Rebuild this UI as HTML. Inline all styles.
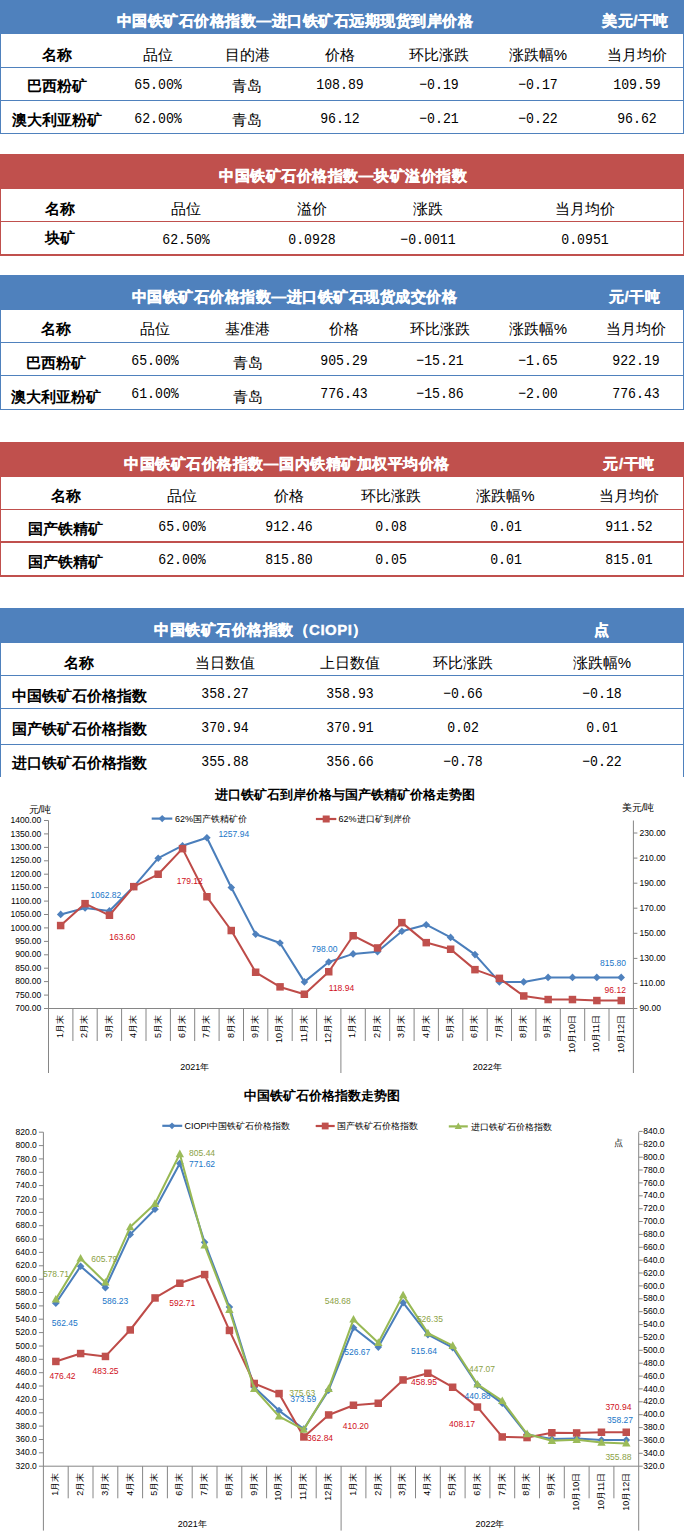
<!DOCTYPE html>
<html><head><meta charset="utf-8"><style>
html,body{margin:0;padding:0;background:#fff}
body{width:684px;height:1538px;position:relative;overflow:hidden;font-family:"Liberation Sans",sans-serif}
.bar,.ln,.tt,.c{position:absolute}
.bar{left:0;width:684px}
.tt{color:#fff;font-weight:bold;font-size:15px;letter-spacing:0.5px;text-align:center;-webkit-text-stroke:0.35px #fff;white-space:nowrap}
.c{width:300px;height:30px;line-height:30px;text-align:center;white-space:nowrap;color:#000;font-family:"Liberation Sans",sans-serif}
.m{font-family:"Liberation Mono",monospace;font-size:15px;transform:scaleX(0.88)}
.b{font-weight:bold}
.ch{position:absolute;left:0;top:0}
</style></head><body>
<div class="bar" style="top:0px;height:34px;background:#4f81bd"></div>
<div class="tt" style="top:4px;height:34px;line-height:34px;left:-5px;width:600px">中国铁矿石价格指数—进口铁矿石远期现货到岸价格</div>
<div class="tt" style="top:4px;height:34px;line-height:34px;left:535.5px;width:200px">美元/干吨</div>
<div class="ln" style="left:0;top:34px;width:1px;height:100px;background:#4f81bd"></div>
<div class="ln" style="left:683px;top:34px;width:1px;height:100px;background:#4f81bd"></div>
<div class="ln" style="left:0;top:67px;width:684px;height:1px;background:#4f81bd"></div>
<div class="ln" style="left:0;top:100px;width:684px;height:1px;background:#4f81bd"></div>
<div class="ln" style="left:0;top:133px;width:684px;height:1px;background:#4f81bd"></div>
<div class="c b" style="left:-93px;top:39.5px;font-size:15px">名称</div>
<div class="c" style="left:7.5px;top:39.5px;font-size:15px">品位</div>
<div class="c" style="left:97px;top:39.5px;font-size:15px">目的港</div>
<div class="c" style="left:189.5px;top:39.5px;font-size:15px">价格</div>
<div class="c" style="left:289px;top:39.5px;font-size:15px">环比涨跌</div>
<div class="c" style="left:388px;top:39.5px;font-size:15px">涨跌幅%</div>
<div class="c" style="left:486.5px;top:39.5px;font-size:15px">当月均价</div>
<div class="c b" style="left:-93px;top:71px;font-size:15px">巴西粉矿</div>
<div class="c m" style="left:7.5px;top:71.4px">65.00%</div>
<div class="c" style="left:97px;top:71px;font-size:15px">青岛</div>
<div class="c m" style="left:189.5px;top:71.4px">108.89</div>
<div class="c m" style="left:289px;top:71.4px">−0.19</div>
<div class="c m" style="left:388px;top:71.4px">−0.17</div>
<div class="c m" style="left:486.5px;top:71.4px">109.59</div>
<div class="c b" style="left:-93px;top:104.7px;font-size:15px">澳大利亚粉矿</div>
<div class="c m" style="left:7.5px;top:104.75px">62.00%</div>
<div class="c" style="left:97px;top:104.7px;font-size:15px">青岛</div>
<div class="c m" style="left:189.5px;top:104.75px">96.12</div>
<div class="c m" style="left:289px;top:104.75px">−0.21</div>
<div class="c m" style="left:388px;top:104.75px">−0.22</div>
<div class="c m" style="left:486.5px;top:104.75px">96.62</div>
<div class="bar" style="top:154px;height:35px;background:#c0504d"></div>
<div class="tt" style="top:158px;height:35px;line-height:35px;left:43px;width:600px">中国铁矿石价格指数—块矿溢价指数</div>
<div class="ln" style="left:0;top:188px;width:1px;height:68px;background:#c0504d"></div>
<div class="ln" style="left:683px;top:188px;width:1px;height:68px;background:#c0504d"></div>
<div class="ln" style="left:0;top:221px;width:684px;height:1px;background:#c0504d"></div>
<div class="ln" style="left:0;top:254px;width:684px;height:2px;background:#c0504d"></div>
<div class="c b" style="left:-90.5px;top:194px;font-size:15px">名称</div>
<div class="c" style="left:36px;top:194px;font-size:15px">品位</div>
<div class="c" style="left:162px;top:194px;font-size:15px">溢价</div>
<div class="c" style="left:278px;top:194px;font-size:15px">涨跌</div>
<div class="c" style="left:435px;top:194px;font-size:15px">当月均价</div>
<div class="c b" style="left:-90.5px;top:223px;font-size:15px">块矿</div>
<div class="c m" style="left:36px;top:225.5px">62.50%</div>
<div class="c m" style="left:162px;top:225.5px">0.0928</div>
<div class="c m" style="left:278px;top:225.5px">−0.0011</div>
<div class="c m" style="left:435px;top:225.5px">0.0951</div>
<div class="bar" style="top:275px;height:35px;background:#4f81bd"></div>
<div class="tt" style="top:279px;height:35px;line-height:35px;left:-5.5px;width:600px">中国铁矿石价格指数—进口铁矿石现货成交价格</div>
<div class="tt" style="top:279px;height:35px;line-height:35px;left:534.5px;width:200px">元/干吨</div>
<div class="ln" style="left:0;top:309px;width:1px;height:101px;background:#4f81bd"></div>
<div class="ln" style="left:683px;top:309px;width:1px;height:101px;background:#4f81bd"></div>
<div class="ln" style="left:0;top:342px;width:684px;height:1px;background:#4f81bd"></div>
<div class="ln" style="left:0;top:375px;width:684px;height:1px;background:#4f81bd"></div>
<div class="ln" style="left:0;top:409px;width:684px;height:1px;background:#4f81bd"></div>
<div class="c b" style="left:-94.5px;top:313.5px;font-size:15px">名称</div>
<div class="c" style="left:5px;top:313.5px;font-size:15px">品位</div>
<div class="c" style="left:97.5px;top:313.5px;font-size:15px">基准港</div>
<div class="c" style="left:193.5px;top:313.5px;font-size:15px">价格</div>
<div class="c" style="left:290px;top:313.5px;font-size:15px">环比涨跌</div>
<div class="c" style="left:388px;top:313.5px;font-size:15px">涨跌幅%</div>
<div class="c" style="left:485.5px;top:313.5px;font-size:15px">当月均价</div>
<div class="c b" style="left:-94.5px;top:348px;font-size:15px">巴西粉矿</div>
<div class="c m" style="left:5px;top:346.5px">65.00%</div>
<div class="c" style="left:97.5px;top:348px;font-size:15px">青岛</div>
<div class="c m" style="left:193.5px;top:346.5px">905.29</div>
<div class="c m" style="left:290px;top:346.5px">−15.21</div>
<div class="c m" style="left:388px;top:346.5px">−1.65</div>
<div class="c m" style="left:485.5px;top:346.5px">922.19</div>
<div class="c b" style="left:-94.5px;top:381.5px;font-size:15px">澳大利亚粉矿</div>
<div class="c m" style="left:5px;top:380.0px">61.00%</div>
<div class="c" style="left:97.5px;top:381.5px;font-size:15px">青岛</div>
<div class="c m" style="left:193.5px;top:380.0px">776.43</div>
<div class="c m" style="left:290px;top:380.0px">−15.86</div>
<div class="c m" style="left:388px;top:380.0px">−2.00</div>
<div class="c m" style="left:485.5px;top:380.0px">776.43</div>
<div class="bar" style="top:442px;height:35px;background:#c0504d"></div>
<div class="tt" style="top:446px;height:35px;line-height:35px;left:-13.25px;width:600px">中国铁矿石价格指数—国内铁精矿加权平均价格</div>
<div class="tt" style="top:446px;height:35px;line-height:35px;left:529px;width:200px">元/干吨</div>
<div class="ln" style="left:0;top:476px;width:1px;height:101px;background:#c0504d"></div>
<div class="ln" style="left:683px;top:476px;width:1px;height:101px;background:#c0504d"></div>
<div class="ln" style="left:0;top:509px;width:684px;height:1px;background:#c0504d"></div>
<div class="ln" style="left:0;top:541px;width:684px;height:2px;background:#c0504d"></div>
<div class="ln" style="left:0;top:575px;width:684px;height:2px;background:#c0504d"></div>
<div class="c b" style="left:-84.5px;top:481px;font-size:15px">名称</div>
<div class="c" style="left:31.5px;top:481px;font-size:15px">品位</div>
<div class="c" style="left:139px;top:481px;font-size:15px">价格</div>
<div class="c" style="left:241px;top:481px;font-size:15px">环比涨跌</div>
<div class="c" style="left:355.5px;top:481px;font-size:15px">涨跌幅%</div>
<div class="c" style="left:479px;top:481px;font-size:15px">当月均价</div>
<div class="c b" style="left:-84.5px;top:514px;font-size:15px">国产铁精矿</div>
<div class="c m" style="left:31.5px;top:513.1px">65.00%</div>
<div class="c m" style="left:139px;top:513.1px">912.46</div>
<div class="c m" style="left:241px;top:513.1px">0.08</div>
<div class="c m" style="left:355.5px;top:513.1px">0.01</div>
<div class="c m" style="left:479px;top:513.1px">911.52</div>
<div class="c b" style="left:-84.5px;top:547px;font-size:15px">国产铁精矿</div>
<div class="c m" style="left:31.5px;top:546.1px">62.00%</div>
<div class="c m" style="left:139px;top:546.1px">815.80</div>
<div class="c m" style="left:241px;top:546.1px">0.05</div>
<div class="c m" style="left:355.5px;top:546.1px">0.01</div>
<div class="c m" style="left:479px;top:546.1px">815.01</div>
<div class="bar" style="top:608px;height:35px;background:#4f81bd"></div>
<div class="tt" style="top:612px;height:35px;line-height:35px;left:-39px;width:600px">中国铁矿石价格指数（CIOPI）</div>
<div class="tt" style="top:612px;height:35px;line-height:35px;left:502px;width:200px">点</div>
<div class="ln" style="left:0;top:642px;width:1px;height:135px;background:#4f81bd"></div>
<div class="ln" style="left:683px;top:642px;width:1px;height:135px;background:#4f81bd"></div>
<div class="ln" style="left:0;top:675px;width:684px;height:1px;background:#4f81bd"></div>
<div class="ln" style="left:0;top:708px;width:684px;height:1px;background:#4f81bd"></div>
<div class="ln" style="left:0;top:744px;width:684px;height:1px;background:#4f81bd"></div>
<div class="c b" style="left:-71px;top:647.5px;font-size:15px">名称</div>
<div class="c" style="left:75px;top:647.5px;font-size:15px">当日数值</div>
<div class="c" style="left:199.5px;top:647.5px;font-size:15px">上日数值</div>
<div class="c" style="left:312.5px;top:647.5px;font-size:15px">环比涨跌</div>
<div class="c" style="left:452px;top:647.5px;font-size:15px">涨跌幅%</div>
<div class="c b" style="left:-71px;top:681px;font-size:15px">中国铁矿石价格指数</div>
<div class="c m" style="left:75px;top:679.5px">358.27</div>
<div class="c m" style="left:199.5px;top:679.5px">358.93</div>
<div class="c m" style="left:312.5px;top:679.5px">−0.66</div>
<div class="c m" style="left:452px;top:679.5px">−0.18</div>
<div class="c b" style="left:-71px;top:714px;font-size:15px">国产铁矿石价格指数</div>
<div class="c m" style="left:75px;top:714.0px">370.94</div>
<div class="c m" style="left:199.5px;top:714.0px">370.91</div>
<div class="c m" style="left:312.5px;top:714.0px">0.02</div>
<div class="c m" style="left:452px;top:714.0px">0.01</div>
<div class="c b" style="left:-71px;top:748px;font-size:15px">进口铁矿石价格指数</div>
<div class="c m" style="left:75px;top:748.2px">355.88</div>
<div class="c m" style="left:199.5px;top:748.2px">356.66</div>
<div class="c m" style="left:312.5px;top:748.2px">−0.78</div>
<div class="c m" style="left:452px;top:748.2px">−0.22</div>
<svg class="ch" width="684" height="1538" viewBox="0 0 684 1538" font-family="Liberation Sans, sans-serif"><text x="344.6" y="798.5" font-size="13" fill="#000" text-anchor="middle" font-weight="bold">进口铁矿石到岸价格与国产铁精矿价格走势图</text><text x="28.6" y="813.0" font-size="10" fill="#000" text-anchor="start">元/吨</text><text x="621.7" y="810.5" font-size="10" fill="#000" text-anchor="start">美元/吨</text><path d="M151.7 818.6H172.3" stroke="#4a7ebb" stroke-width="2.2"/><path d="M162.2 815.0L165.8 818.6L162.2 822.2L158.6 818.6Z" fill="#4f81bd"/><text x="175.1" y="822.0" font-size="9" fill="#000" text-anchor="start">62%国产铁精矿价</text><path d="M315.9 819H336.3" stroke="#be4b48" stroke-width="2.2"/><rect x="322.7" y="815.5" width="7.0" height="7.0" fill="#c0504d"/><text x="338.6" y="822.4" font-size="9" fill="#000" text-anchor="start">62%进口矿到岸价</text><g stroke="#868686" stroke-width="1" fill="none"><path d="M48.5 820.5V1073M633.4 820.5V1073M48.5 1008.5H633.4"/><path d="M72.9 1008.5V1041M97.2 1008.5V1041M121.6 1008.5V1041M146.0 1008.5V1041M170.4 1008.5V1041M194.7 1008.5V1041M219.1 1008.5V1041M243.5 1008.5V1041M267.8 1008.5V1041M292.2 1008.5V1041M316.6 1008.5V1041M340.9 1008.5V1073M365.3 1008.5V1041M389.7 1008.5V1041M414.1 1008.5V1041M438.4 1008.5V1041M462.8 1008.5V1041M487.2 1008.5V1041M511.5 1008.5V1041M535.9 1008.5V1041M560.3 1008.5V1041M584.7 1008.5V1041M609.0 1008.5V1041"/><path d="M44.0 1008.5H48.5M44.0 995.1H48.5M44.0 981.6H48.5M44.0 968.2H48.5M44.0 954.8H48.5M44.0 941.4H48.5M44.0 927.9H48.5M44.0 914.5H48.5M44.0 901.1H48.5M44.0 887.6H48.5M44.0 874.2H48.5M44.0 860.8H48.5M44.0 847.4H48.5M44.0 833.9H48.5M44.0 820.5H48.5M633.4 1008.5H637.4M633.4 983.4H637.4M633.4 958.4H637.4M633.4 933.3H637.4M633.4 908.2H637.4M633.4 883.2H637.4M633.4 858.1H637.4M633.4 833.0H637.4"/></g><g font-size="8.5" fill="#000"><text x="41.2" y="1011.1" font-size="8.5" fill="#000" text-anchor="end">700.00</text><text x="41.2" y="997.7" font-size="8.5" fill="#000" text-anchor="end">750.00</text><text x="41.2" y="984.2" font-size="8.5" fill="#000" text-anchor="end">800.00</text><text x="41.2" y="970.8" font-size="8.5" fill="#000" text-anchor="end">850.00</text><text x="41.2" y="957.4" font-size="8.5" fill="#000" text-anchor="end">900.00</text><text x="41.2" y="944.0" font-size="8.5" fill="#000" text-anchor="end">950.00</text><text x="41.2" y="930.5" font-size="8.5" fill="#000" text-anchor="end">1000.00</text><text x="41.2" y="917.1" font-size="8.5" fill="#000" text-anchor="end">1050.00</text><text x="41.2" y="903.7" font-size="8.5" fill="#000" text-anchor="end">1100.00</text><text x="41.2" y="890.2" font-size="8.5" fill="#000" text-anchor="end">1150.00</text><text x="41.2" y="876.8" font-size="8.5" fill="#000" text-anchor="end">1200.00</text><text x="41.2" y="863.4" font-size="8.5" fill="#000" text-anchor="end">1250.00</text><text x="41.2" y="850.0" font-size="8.5" fill="#000" text-anchor="end">1300.00</text><text x="41.2" y="836.5" font-size="8.5" fill="#000" text-anchor="end">1350.00</text><text x="41.2" y="823.1" font-size="8.5" fill="#000" text-anchor="end">1400.00</text><text x="639.6" y="1011.1" font-size="8.5" fill="#000" text-anchor="start">90.00</text><text x="639.6" y="986.0" font-size="8.5" fill="#000" text-anchor="start">110.00</text><text x="639.6" y="961.0" font-size="8.5" fill="#000" text-anchor="start">130.00</text><text x="639.6" y="935.9" font-size="8.5" fill="#000" text-anchor="start">150.00</text><text x="639.6" y="910.8" font-size="8.5" fill="#000" text-anchor="start">170.00</text><text x="639.6" y="885.8" font-size="8.5" fill="#000" text-anchor="start">190.00</text><text x="639.6" y="860.7" font-size="8.5" fill="#000" text-anchor="start">210.00</text><text x="639.6" y="835.6" font-size="8.5" fill="#000" text-anchor="start">230.00</text></g><text transform="translate(63.0,1015) rotate(-90)" font-size="9" text-anchor="end" fill="#000">1月末</text><text transform="translate(87.4,1015) rotate(-90)" font-size="9" text-anchor="end" fill="#000">2月末</text><text transform="translate(111.7,1015) rotate(-90)" font-size="9" text-anchor="end" fill="#000">3月末</text><text transform="translate(136.1,1015) rotate(-90)" font-size="9" text-anchor="end" fill="#000">4月末</text><text transform="translate(160.5,1015) rotate(-90)" font-size="9" text-anchor="end" fill="#000">5月末</text><text transform="translate(184.8,1015) rotate(-90)" font-size="9" text-anchor="end" fill="#000">6月末</text><text transform="translate(209.2,1015) rotate(-90)" font-size="9" text-anchor="end" fill="#000">7月末</text><text transform="translate(233.6,1015) rotate(-90)" font-size="9" text-anchor="end" fill="#000">8月末</text><text transform="translate(258.0,1015) rotate(-90)" font-size="9" text-anchor="end" fill="#000">9月末</text><text transform="translate(282.3,1015) rotate(-90)" font-size="9" text-anchor="end" fill="#000">10月末</text><text transform="translate(306.7,1015) rotate(-90)" font-size="9" text-anchor="end" fill="#000">11月末</text><text transform="translate(331.1,1015) rotate(-90)" font-size="9" text-anchor="end" fill="#000">12月末</text><text transform="translate(355.4,1015) rotate(-90)" font-size="9" text-anchor="end" fill="#000">1月末</text><text transform="translate(379.8,1015) rotate(-90)" font-size="9" text-anchor="end" fill="#000">2月末</text><text transform="translate(404.2,1015) rotate(-90)" font-size="9" text-anchor="end" fill="#000">3月末</text><text transform="translate(428.5,1015) rotate(-90)" font-size="9" text-anchor="end" fill="#000">4月末</text><text transform="translate(452.9,1015) rotate(-90)" font-size="9" text-anchor="end" fill="#000">5月末</text><text transform="translate(477.3,1015) rotate(-90)" font-size="9" text-anchor="end" fill="#000">6月末</text><text transform="translate(501.7,1015) rotate(-90)" font-size="9" text-anchor="end" fill="#000">7月末</text><text transform="translate(526.0,1015) rotate(-90)" font-size="9" text-anchor="end" fill="#000">8月末</text><text transform="translate(550.4,1015) rotate(-90)" font-size="9" text-anchor="end" fill="#000">9月末</text><text transform="translate(574.8,1015) rotate(-90)" font-size="9" text-anchor="end" fill="#000">10月10日</text><text transform="translate(599.1,1015) rotate(-90)" font-size="9" text-anchor="end" fill="#000">10月11日</text><text transform="translate(623.5,1015) rotate(-90)" font-size="9" text-anchor="end" fill="#000">10月12日</text><text x="194.7" y="1070.0" font-size="9" fill="#000" text-anchor="middle">2021年</text><text x="487.2" y="1070.0" font-size="9" fill="#000" text-anchor="middle">2022年</text><path d="M60.7 914.4L85.1 908.0L109.4 910.9L133.8 886.6L158.2 858.2L182.5 845.7L206.9 837.8L231.3 887.5L255.7 934.3L280.0 943.0L304.4 981.9L328.8 962.0L353.1 953.9L377.5 951.8L401.9 931.3L426.2 924.7L450.6 937.4L475.0 954.6L499.4 981.9L523.7 981.9L548.1 977.4L572.5 977.4L596.8 977.4L621.2 977.4" fill="none" stroke="#4a7ebb" stroke-width="2.05" stroke-linejoin="round"/><path d="M60.7 910.6L64.5 914.4L60.7 918.2L56.9 914.4Z" fill="#4f81bd"/><path d="M85.1 904.2L88.9 908.0L85.1 911.8L81.3 908.0Z" fill="#4f81bd"/><path d="M109.4 907.1L113.2 910.9L109.4 914.7L105.6 910.9Z" fill="#4f81bd"/><path d="M133.8 882.8L137.6 886.6L133.8 890.4L130.0 886.6Z" fill="#4f81bd"/><path d="M158.2 854.4L162.0 858.2L158.2 862.0L154.4 858.2Z" fill="#4f81bd"/><path d="M182.5 841.9L186.3 845.7L182.5 849.5L178.7 845.7Z" fill="#4f81bd"/><path d="M206.9 834.0L210.7 837.8L206.9 841.6L203.1 837.8Z" fill="#4f81bd"/><path d="M231.3 883.7L235.1 887.5L231.3 891.3L227.5 887.5Z" fill="#4f81bd"/><path d="M255.7 930.5L259.5 934.3L255.7 938.1L251.9 934.3Z" fill="#4f81bd"/><path d="M280.0 939.2L283.8 943.0L280.0 946.8L276.2 943.0Z" fill="#4f81bd"/><path d="M304.4 978.1L308.2 981.9L304.4 985.7L300.6 981.9Z" fill="#4f81bd"/><path d="M328.8 958.2L332.6 962.0L328.8 965.8L325.0 962.0Z" fill="#4f81bd"/><path d="M353.1 950.1L356.9 953.9L353.1 957.7L349.3 953.9Z" fill="#4f81bd"/><path d="M377.5 948.0L381.3 951.8L377.5 955.6L373.7 951.8Z" fill="#4f81bd"/><path d="M401.9 927.5L405.7 931.3L401.9 935.1L398.1 931.3Z" fill="#4f81bd"/><path d="M426.2 920.9L430.0 924.7L426.2 928.5L422.4 924.7Z" fill="#4f81bd"/><path d="M450.6 933.6L454.4 937.4L450.6 941.2L446.8 937.4Z" fill="#4f81bd"/><path d="M475.0 950.8L478.8 954.6L475.0 958.4L471.2 954.6Z" fill="#4f81bd"/><path d="M499.4 978.1L503.2 981.9L499.4 985.7L495.6 981.9Z" fill="#4f81bd"/><path d="M523.7 978.1L527.5 981.9L523.7 985.7L519.9 981.9Z" fill="#4f81bd"/><path d="M548.1 973.6L551.9 977.4L548.1 981.2L544.3 977.4Z" fill="#4f81bd"/><path d="M572.5 973.6L576.3 977.4L572.5 981.2L568.7 977.4Z" fill="#4f81bd"/><path d="M596.8 973.6L600.6 977.4L596.8 981.2L593.0 977.4Z" fill="#4f81bd"/><path d="M621.2 973.6L625.0 977.4L621.2 981.2L617.4 977.4Z" fill="#4f81bd"/><path d="M60.7 925.5L85.1 903.6L109.4 915.3L133.8 886.6L158.2 874.3L182.5 848.6L206.9 896.8L231.3 930.5L255.7 972.3L280.0 986.9L304.4 994.2L328.8 971.7L353.1 935.7L377.5 948.0L401.9 922.6L426.2 942.6L450.6 949.3L475.0 969.6L499.4 978.4L523.7 996.0L548.1 999.5L572.5 999.5L596.8 1000.5L621.2 1000.5" fill="none" stroke="#be4b48" stroke-width="2.05" stroke-linejoin="round"/><rect x="56.9" y="921.8" width="7.5" height="7.5" fill="#c0504d"/><rect x="81.3" y="899.9" width="7.5" height="7.5" fill="#c0504d"/><rect x="105.7" y="911.5" width="7.5" height="7.5" fill="#c0504d"/><rect x="130.0" y="882.9" width="7.5" height="7.5" fill="#c0504d"/><rect x="154.4" y="870.5" width="7.5" height="7.5" fill="#c0504d"/><rect x="178.8" y="844.9" width="7.5" height="7.5" fill="#c0504d"/><rect x="203.2" y="893.0" width="7.5" height="7.5" fill="#c0504d"/><rect x="227.5" y="926.8" width="7.5" height="7.5" fill="#c0504d"/><rect x="251.9" y="968.5" width="7.5" height="7.5" fill="#c0504d"/><rect x="276.3" y="983.1" width="7.5" height="7.5" fill="#c0504d"/><rect x="300.6" y="990.5" width="7.5" height="7.5" fill="#c0504d"/><rect x="325.0" y="968.0" width="7.5" height="7.5" fill="#c0504d"/><rect x="349.4" y="932.0" width="7.5" height="7.5" fill="#c0504d"/><rect x="373.8" y="944.2" width="7.5" height="7.5" fill="#c0504d"/><rect x="398.1" y="918.9" width="7.5" height="7.5" fill="#c0504d"/><rect x="422.5" y="938.9" width="7.5" height="7.5" fill="#c0504d"/><rect x="446.9" y="945.5" width="7.5" height="7.5" fill="#c0504d"/><rect x="471.2" y="965.9" width="7.5" height="7.5" fill="#c0504d"/><rect x="495.6" y="974.6" width="7.5" height="7.5" fill="#c0504d"/><rect x="520.0" y="992.2" width="7.5" height="7.5" fill="#c0504d"/><rect x="544.4" y="995.8" width="7.5" height="7.5" fill="#c0504d"/><rect x="568.7" y="995.8" width="7.5" height="7.5" fill="#c0504d"/><rect x="593.1" y="996.8" width="7.5" height="7.5" fill="#c0504d"/><rect x="617.5" y="996.8" width="7.5" height="7.5" fill="#c0504d"/><text x="90.5" y="897.5" font-size="8.5" fill="#1a76c8" text-anchor="start">1062.82</text><text x="218.4" y="836.6" font-size="8.5" fill="#1a76c8" text-anchor="start">1257.94</text><text x="109.3" y="939.5" font-size="8.5" fill="#d0101c" text-anchor="start">163.60</text><text x="176.8" y="884.3" font-size="8.5" fill="#d0101c" text-anchor="start">179.12</text><text x="311.5" y="951.5" font-size="8.5" fill="#1a76c8" text-anchor="start">798.00</text><text x="328.8" y="990.8" font-size="8.5" fill="#d0101c" text-anchor="start">118.94</text><text x="600.0" y="965.7" font-size="8.5" fill="#1a76c8" text-anchor="start">815.80</text><text x="604.6" y="993.1" font-size="8.5" fill="#d0101c" text-anchor="start">96.12</text><text x="321.6" y="1100.0" font-size="13" fill="#000" text-anchor="middle" font-weight="bold">中国铁矿石价格指数走势图</text><text x="613.5" y="1146.0" font-size="9" fill="#000" text-anchor="start">点</text><path d="M162.3 1125.8H182.2" stroke="#4a7ebb" stroke-width="2.2"/><path d="M172.0 1122.4L175.4 1125.8L172.0 1129.2L168.6 1125.8Z" fill="#4f81bd"/><text x="184.4" y="1129.2" font-size="9" fill="#000" text-anchor="start">CIOPI中国铁矿石价格指数</text><path d="M315.7 1126H334.7" stroke="#be4b48" stroke-width="2.2"/><rect x="321.8" y="1122.6" width="6.8" height="6.8" fill="#c0504d"/><text x="337.4" y="1129.4" font-size="9" fill="#000" text-anchor="start">国产铁矿石价格指数</text><path d="M448.8 1126.4H467.8" stroke="#98b954" stroke-width="2.2"/><path d="M458.3 1122.6L461.9 1129.1L454.7 1129.1Z" fill="#9bbb59"/><text x="470.5" y="1129.8" font-size="9" fill="#000" text-anchor="start">进口铁矿石价格指数</text><g stroke="#868686" stroke-width="1" fill="none"><path d="M43.4 1132.2V1530.6M638.7 1132.2V1530.6M43.4 1466.2H638.7"/><path d="M68.2 1466.2V1498.3M93.0 1466.2V1498.3M117.8 1466.2V1498.3M142.6 1466.2V1498.3M167.4 1466.2V1498.3M192.2 1466.2V1498.3M217.0 1466.2V1498.3M241.8 1466.2V1498.3M266.6 1466.2V1498.3M291.4 1466.2V1498.3M316.2 1466.2V1498.3M341.1 1466.2V1530.6M365.9 1466.2V1498.3M390.7 1466.2V1498.3M415.5 1466.2V1498.3M440.3 1466.2V1498.3M465.1 1466.2V1498.3M489.9 1466.2V1498.3M514.7 1466.2V1498.3M539.5 1466.2V1498.3M564.3 1466.2V1498.3M589.1 1466.2V1498.3M613.9 1466.2V1498.3"/><path d="M38.9 1466.2H43.4M38.9 1452.8H43.4M38.9 1439.5H43.4M38.9 1426.1H43.4M38.9 1412.8H43.4M38.9 1399.4H43.4M38.9 1386.0H43.4M38.9 1372.7H43.4M38.9 1359.3H43.4M38.9 1346.0H43.4M38.9 1332.6H43.4M38.9 1319.2H43.4M38.9 1305.9H43.4M38.9 1292.5H43.4M38.9 1279.2H43.4M38.9 1265.8H43.4M38.9 1252.4H43.4M38.9 1239.1H43.4M38.9 1225.7H43.4M38.9 1212.4H43.4M38.9 1199.0H43.4M38.9 1185.6H43.4M38.9 1172.3H43.4M38.9 1158.9H43.4M38.9 1145.6H43.4M38.9 1132.2H43.4M638.7 1466.2H642.7M638.7 1453.3H642.7M638.7 1440.4H642.7M638.7 1427.6H642.7M638.7 1414.7H642.7M638.7 1401.8H642.7M638.7 1388.9H642.7M638.7 1376.1H642.7M638.7 1363.2H642.7M638.7 1350.3H642.7M638.7 1337.4H642.7M638.7 1324.6H642.7M638.7 1311.7H642.7M638.7 1298.8H642.7M638.7 1285.9H642.7M638.7 1273.0H642.7M638.7 1260.2H642.7M638.7 1247.3H642.7M638.7 1234.4H642.7M638.7 1221.5H642.7M638.7 1208.7H642.7M638.7 1195.8H642.7M638.7 1182.9H642.7M638.7 1170.0H642.7M638.7 1157.2H642.7M638.7 1144.3H642.7M638.7 1131.4H642.7"/></g><g font-size="8.5" fill="#000"><text x="36.8" y="1468.8" font-size="8.5" fill="#000" text-anchor="end">320.0</text><text x="36.8" y="1455.4" font-size="8.5" fill="#000" text-anchor="end">340.0</text><text x="36.8" y="1442.1" font-size="8.5" fill="#000" text-anchor="end">360.0</text><text x="36.8" y="1428.7" font-size="8.5" fill="#000" text-anchor="end">380.0</text><text x="36.8" y="1415.4" font-size="8.5" fill="#000" text-anchor="end">400.0</text><text x="36.8" y="1402.0" font-size="8.5" fill="#000" text-anchor="end">420.0</text><text x="36.8" y="1388.6" font-size="8.5" fill="#000" text-anchor="end">440.0</text><text x="36.8" y="1375.3" font-size="8.5" fill="#000" text-anchor="end">460.0</text><text x="36.8" y="1361.9" font-size="8.5" fill="#000" text-anchor="end">480.0</text><text x="36.8" y="1348.6" font-size="8.5" fill="#000" text-anchor="end">500.0</text><text x="36.8" y="1335.2" font-size="8.5" fill="#000" text-anchor="end">520.0</text><text x="36.8" y="1321.8" font-size="8.5" fill="#000" text-anchor="end">540.0</text><text x="36.8" y="1308.5" font-size="8.5" fill="#000" text-anchor="end">560.0</text><text x="36.8" y="1295.1" font-size="8.5" fill="#000" text-anchor="end">580.0</text><text x="36.8" y="1281.8" font-size="8.5" fill="#000" text-anchor="end">600.0</text><text x="36.8" y="1268.4" font-size="8.5" fill="#000" text-anchor="end">620.0</text><text x="36.8" y="1255.0" font-size="8.5" fill="#000" text-anchor="end">640.0</text><text x="36.8" y="1241.7" font-size="8.5" fill="#000" text-anchor="end">660.0</text><text x="36.8" y="1228.3" font-size="8.5" fill="#000" text-anchor="end">680.0</text><text x="36.8" y="1215.0" font-size="8.5" fill="#000" text-anchor="end">700.0</text><text x="36.8" y="1201.6" font-size="8.5" fill="#000" text-anchor="end">720.0</text><text x="36.8" y="1188.2" font-size="8.5" fill="#000" text-anchor="end">740.0</text><text x="36.8" y="1174.9" font-size="8.5" fill="#000" text-anchor="end">760.0</text><text x="36.8" y="1161.5" font-size="8.5" fill="#000" text-anchor="end">780.0</text><text x="36.8" y="1148.2" font-size="8.5" fill="#000" text-anchor="end">800.0</text><text x="36.8" y="1134.8" font-size="8.5" fill="#000" text-anchor="end">820.0</text><text x="643.3" y="1468.8" font-size="8.5" fill="#000" text-anchor="start">320.0</text><text x="643.3" y="1455.9" font-size="8.5" fill="#000" text-anchor="start">340.0</text><text x="643.3" y="1443.0" font-size="8.5" fill="#000" text-anchor="start">360.0</text><text x="643.3" y="1430.2" font-size="8.5" fill="#000" text-anchor="start">380.0</text><text x="643.3" y="1417.3" font-size="8.5" fill="#000" text-anchor="start">400.0</text><text x="643.3" y="1404.4" font-size="8.5" fill="#000" text-anchor="start">420.0</text><text x="643.3" y="1391.5" font-size="8.5" fill="#000" text-anchor="start">440.0</text><text x="643.3" y="1378.7" font-size="8.5" fill="#000" text-anchor="start">460.0</text><text x="643.3" y="1365.8" font-size="8.5" fill="#000" text-anchor="start">480.0</text><text x="643.3" y="1352.9" font-size="8.5" fill="#000" text-anchor="start">500.0</text><text x="643.3" y="1340.0" font-size="8.5" fill="#000" text-anchor="start">520.0</text><text x="643.3" y="1327.2" font-size="8.5" fill="#000" text-anchor="start">540.0</text><text x="643.3" y="1314.3" font-size="8.5" fill="#000" text-anchor="start">560.0</text><text x="643.3" y="1301.4" font-size="8.5" fill="#000" text-anchor="start">580.0</text><text x="643.3" y="1288.5" font-size="8.5" fill="#000" text-anchor="start">600.0</text><text x="643.3" y="1275.6" font-size="8.5" fill="#000" text-anchor="start">620.0</text><text x="643.3" y="1262.8" font-size="8.5" fill="#000" text-anchor="start">640.0</text><text x="643.3" y="1249.9" font-size="8.5" fill="#000" text-anchor="start">660.0</text><text x="643.3" y="1237.0" font-size="8.5" fill="#000" text-anchor="start">680.0</text><text x="643.3" y="1224.1" font-size="8.5" fill="#000" text-anchor="start">700.0</text><text x="643.3" y="1211.3" font-size="8.5" fill="#000" text-anchor="start">720.0</text><text x="643.3" y="1198.4" font-size="8.5" fill="#000" text-anchor="start">740.0</text><text x="643.3" y="1185.5" font-size="8.5" fill="#000" text-anchor="start">760.0</text><text x="643.3" y="1172.6" font-size="8.5" fill="#000" text-anchor="start">780.0</text><text x="643.3" y="1159.8" font-size="8.5" fill="#000" text-anchor="start">800.0</text><text x="643.3" y="1146.9" font-size="8.5" fill="#000" text-anchor="start">820.0</text><text x="643.3" y="1134.0" font-size="8.5" fill="#000" text-anchor="start">840.0</text></g><text transform="translate(58.1,1472.7) rotate(-90)" font-size="9" text-anchor="end" fill="#000">1月末</text><text transform="translate(82.9,1472.7) rotate(-90)" font-size="9" text-anchor="end" fill="#000">2月末</text><text transform="translate(107.7,1472.7) rotate(-90)" font-size="9" text-anchor="end" fill="#000">3月末</text><text transform="translate(132.5,1472.7) rotate(-90)" font-size="9" text-anchor="end" fill="#000">4月末</text><text transform="translate(157.3,1472.7) rotate(-90)" font-size="9" text-anchor="end" fill="#000">5月末</text><text transform="translate(182.1,1472.7) rotate(-90)" font-size="9" text-anchor="end" fill="#000">6月末</text><text transform="translate(206.9,1472.7) rotate(-90)" font-size="9" text-anchor="end" fill="#000">7月末</text><text transform="translate(231.7,1472.7) rotate(-90)" font-size="9" text-anchor="end" fill="#000">8月末</text><text transform="translate(256.5,1472.7) rotate(-90)" font-size="9" text-anchor="end" fill="#000">9月末</text><text transform="translate(281.3,1472.7) rotate(-90)" font-size="9" text-anchor="end" fill="#000">10月末</text><text transform="translate(306.1,1472.7) rotate(-90)" font-size="9" text-anchor="end" fill="#000">11月末</text><text transform="translate(330.9,1472.7) rotate(-90)" font-size="9" text-anchor="end" fill="#000">12月末</text><text transform="translate(355.8,1472.7) rotate(-90)" font-size="9" text-anchor="end" fill="#000">1月末</text><text transform="translate(380.6,1472.7) rotate(-90)" font-size="9" text-anchor="end" fill="#000">2月末</text><text transform="translate(405.4,1472.7) rotate(-90)" font-size="9" text-anchor="end" fill="#000">3月末</text><text transform="translate(430.2,1472.7) rotate(-90)" font-size="9" text-anchor="end" fill="#000">4月末</text><text transform="translate(455.0,1472.7) rotate(-90)" font-size="9" text-anchor="end" fill="#000">5月末</text><text transform="translate(479.8,1472.7) rotate(-90)" font-size="9" text-anchor="end" fill="#000">6月末</text><text transform="translate(504.6,1472.7) rotate(-90)" font-size="9" text-anchor="end" fill="#000">7月末</text><text transform="translate(529.4,1472.7) rotate(-90)" font-size="9" text-anchor="end" fill="#000">8月末</text><text transform="translate(554.2,1472.7) rotate(-90)" font-size="9" text-anchor="end" fill="#000">9月末</text><text transform="translate(579.0,1472.7) rotate(-90)" font-size="9" text-anchor="end" fill="#000">10月10日</text><text transform="translate(603.8,1472.7) rotate(-90)" font-size="9" text-anchor="end" fill="#000">10月11日</text><text transform="translate(628.6,1472.7) rotate(-90)" font-size="9" text-anchor="end" fill="#000">10月12日</text><text x="192.2" y="1526.5" font-size="9" fill="#000" text-anchor="middle">2021年</text><text x="489.9" y="1526.5" font-size="9" fill="#000" text-anchor="middle">2022年</text><path d="M55.8 1303.2L80.6 1266.3L105.4 1287.7L130.2 1234.4L155.0 1209.3L179.8 1163.4L204.6 1242.3L229.4 1307.0L254.2 1387.2L279.0 1410.6L303.8 1429.0L328.6 1390.1L353.5 1327.8L378.3 1347.1L403.1 1302.7L427.9 1334.6L452.7 1347.7L477.5 1385.1L502.3 1403.3L527.1 1434.6L551.9 1439.0L576.7 1438.4L601.5 1440.0L626.3 1440.0" fill="none" stroke="#4a7ebb" stroke-width="2.05" stroke-linejoin="round"/><path d="M55.8 1299.4L59.6 1303.2L55.8 1307.0L52.0 1303.2Z" fill="#4f81bd"/><path d="M80.6 1262.5L84.4 1266.3L80.6 1270.1L76.8 1266.3Z" fill="#4f81bd"/><path d="M105.4 1283.9L109.2 1287.7L105.4 1291.5L101.6 1287.7Z" fill="#4f81bd"/><path d="M130.2 1230.6L134.0 1234.4L130.2 1238.2L126.4 1234.4Z" fill="#4f81bd"/><path d="M155.0 1205.5L158.8 1209.3L155.0 1213.1L151.2 1209.3Z" fill="#4f81bd"/><path d="M179.8 1159.6L183.6 1163.4L179.8 1167.2L176.0 1163.4Z" fill="#4f81bd"/><path d="M204.6 1238.5L208.4 1242.3L204.6 1246.1L200.8 1242.3Z" fill="#4f81bd"/><path d="M229.4 1303.2L233.2 1307.0L229.4 1310.8L225.6 1307.0Z" fill="#4f81bd"/><path d="M254.2 1383.4L258.0 1387.2L254.2 1391.0L250.4 1387.2Z" fill="#4f81bd"/><path d="M279.0 1406.8L282.8 1410.6L279.0 1414.4L275.2 1410.6Z" fill="#4f81bd"/><path d="M303.8 1425.2L307.6 1429.0L303.8 1432.8L300.0 1429.0Z" fill="#4f81bd"/><path d="M328.6 1386.3L332.4 1390.1L328.6 1393.9L324.8 1390.1Z" fill="#4f81bd"/><path d="M353.5 1324.0L357.3 1327.8L353.5 1331.6L349.7 1327.8Z" fill="#4f81bd"/><path d="M378.3 1343.3L382.1 1347.1L378.3 1350.9L374.5 1347.1Z" fill="#4f81bd"/><path d="M403.1 1298.9L406.9 1302.7L403.1 1306.5L399.3 1302.7Z" fill="#4f81bd"/><path d="M427.9 1330.8L431.7 1334.6L427.9 1338.4L424.1 1334.6Z" fill="#4f81bd"/><path d="M452.7 1343.9L456.5 1347.7L452.7 1351.5L448.9 1347.7Z" fill="#4f81bd"/><path d="M477.5 1381.3L481.3 1385.1L477.5 1388.9L473.7 1385.1Z" fill="#4f81bd"/><path d="M502.3 1399.5L506.1 1403.3L502.3 1407.1L498.5 1403.3Z" fill="#4f81bd"/><path d="M527.1 1430.8L530.9 1434.6L527.1 1438.4L523.3 1434.6Z" fill="#4f81bd"/><path d="M551.9 1435.2L555.7 1439.0L551.9 1442.8L548.1 1439.0Z" fill="#4f81bd"/><path d="M576.7 1434.6L580.5 1438.4L576.7 1442.2L572.9 1438.4Z" fill="#4f81bd"/><path d="M601.5 1436.2L605.3 1440.0L601.5 1443.8L597.7 1440.0Z" fill="#4f81bd"/><path d="M626.3 1436.2L630.1 1440.0L626.3 1443.8L622.5 1440.0Z" fill="#4f81bd"/><path d="M55.8 1361.4L80.6 1353.5L105.4 1356.4L130.2 1330.0L155.0 1297.9L179.8 1283.3L204.6 1274.5L229.4 1330.4L254.2 1383.4L279.0 1393.6L303.8 1436.9L328.6 1415.0L353.5 1405.3L378.3 1403.3L403.1 1379.9L427.9 1373.2L452.7 1387.2L477.5 1407.1L502.3 1436.9L527.1 1437.5L551.9 1432.8L576.7 1433.0L601.5 1432.2L626.3 1432.2" fill="none" stroke="#be4b48" stroke-width="2.05" stroke-linejoin="round"/><rect x="52.1" y="1357.7" width="7.5" height="7.5" fill="#c0504d"/><rect x="76.9" y="1349.8" width="7.5" height="7.5" fill="#c0504d"/><rect x="101.7" y="1352.7" width="7.5" height="7.5" fill="#c0504d"/><rect x="126.5" y="1326.2" width="7.5" height="7.5" fill="#c0504d"/><rect x="151.3" y="1294.2" width="7.5" height="7.5" fill="#c0504d"/><rect x="176.1" y="1279.5" width="7.5" height="7.5" fill="#c0504d"/><rect x="200.9" y="1270.8" width="7.5" height="7.5" fill="#c0504d"/><rect x="225.7" y="1326.7" width="7.5" height="7.5" fill="#c0504d"/><rect x="250.5" y="1379.7" width="7.5" height="7.5" fill="#c0504d"/><rect x="275.3" y="1389.8" width="7.5" height="7.5" fill="#c0504d"/><rect x="300.1" y="1433.2" width="7.5" height="7.5" fill="#c0504d"/><rect x="324.9" y="1411.2" width="7.5" height="7.5" fill="#c0504d"/><rect x="349.7" y="1401.5" width="7.5" height="7.5" fill="#c0504d"/><rect x="374.5" y="1399.5" width="7.5" height="7.5" fill="#c0504d"/><rect x="399.3" y="1376.2" width="7.5" height="7.5" fill="#c0504d"/><rect x="424.1" y="1369.5" width="7.5" height="7.5" fill="#c0504d"/><rect x="448.9" y="1383.5" width="7.5" height="7.5" fill="#c0504d"/><rect x="473.7" y="1403.3" width="7.5" height="7.5" fill="#c0504d"/><rect x="498.5" y="1433.2" width="7.5" height="7.5" fill="#c0504d"/><rect x="523.3" y="1433.8" width="7.5" height="7.5" fill="#c0504d"/><rect x="548.1" y="1429.0" width="7.5" height="7.5" fill="#c0504d"/><rect x="572.9" y="1429.2" width="7.5" height="7.5" fill="#c0504d"/><rect x="597.7" y="1428.5" width="7.5" height="7.5" fill="#c0504d"/><rect x="622.5" y="1428.5" width="7.5" height="7.5" fill="#c0504d"/><path d="M55.8 1299.4L80.6 1258.4L105.4 1282.4L130.2 1227.1L155.0 1203.7L179.8 1154.0L204.6 1245.3L229.4 1309.7L254.2 1388.7L279.0 1416.4L303.8 1429.6L328.6 1388.7L353.5 1319.4L378.3 1342.7L403.1 1295.1L427.9 1333.1L452.7 1345.7L477.5 1384.3L502.3 1400.9L527.1 1434.0L551.9 1440.7L576.7 1439.8L601.5 1442.6L626.3 1443.4" fill="none" stroke="#98b954" stroke-width="2.05" stroke-linejoin="round"/><path d="M55.8 1295.0L60.0 1302.6L51.6 1302.6Z" fill="#9bbb59"/><path d="M80.6 1254.0L84.8 1261.6L76.4 1261.6Z" fill="#9bbb59"/><path d="M105.4 1278.0L109.6 1285.6L101.2 1285.6Z" fill="#9bbb59"/><path d="M130.2 1222.7L134.4 1230.2L126.0 1230.2Z" fill="#9bbb59"/><path d="M155.0 1199.3L159.2 1206.9L150.8 1206.9Z" fill="#9bbb59"/><path d="M179.8 1149.6L184.0 1157.2L175.6 1157.2Z" fill="#9bbb59"/><path d="M204.6 1240.9L208.8 1248.5L200.4 1248.5Z" fill="#9bbb59"/><path d="M229.4 1305.3L233.6 1312.9L225.2 1312.9Z" fill="#9bbb59"/><path d="M254.2 1384.3L258.4 1391.9L250.0 1391.9Z" fill="#9bbb59"/><path d="M279.0 1412.0L283.2 1419.6L274.8 1419.6Z" fill="#9bbb59"/><path d="M303.8 1425.2L308.0 1432.8L299.6 1432.8Z" fill="#9bbb59"/><path d="M328.6 1384.3L332.8 1391.9L324.4 1391.9Z" fill="#9bbb59"/><path d="M353.5 1315.0L357.7 1322.6L349.3 1322.6Z" fill="#9bbb59"/><path d="M378.3 1338.3L382.5 1345.9L374.1 1345.9Z" fill="#9bbb59"/><path d="M403.1 1290.7L407.3 1298.2L398.9 1298.2Z" fill="#9bbb59"/><path d="M427.9 1328.7L432.1 1336.2L423.7 1336.2Z" fill="#9bbb59"/><path d="M452.7 1341.3L456.9 1348.9L448.5 1348.9Z" fill="#9bbb59"/><path d="M477.5 1379.9L481.7 1387.5L473.3 1387.5Z" fill="#9bbb59"/><path d="M502.3 1396.5L506.5 1404.1L498.1 1404.1Z" fill="#9bbb59"/><path d="M527.1 1429.6L531.3 1437.2L522.9 1437.2Z" fill="#9bbb59"/><path d="M551.9 1436.3L556.1 1443.9L547.7 1443.9Z" fill="#9bbb59"/><path d="M576.7 1435.4L580.9 1443.0L572.5 1443.0Z" fill="#9bbb59"/><path d="M601.5 1438.2L605.7 1445.8L597.3 1445.8Z" fill="#9bbb59"/><path d="M626.3 1439.0L630.5 1446.6L622.1 1446.6Z" fill="#9bbb59"/><text x="189.1" y="1156.4" font-size="8.5" fill="#8ca246" text-anchor="start">805.44</text><text x="189.1" y="1167.3" font-size="8.5" fill="#1a76c8" text-anchor="start">771.62</text><text x="91.2" y="1261.7" font-size="8.5" fill="#8ca246" text-anchor="start">605.79</text><text x="42.9" y="1277.2" font-size="8.5" fill="#8ca246" text-anchor="start">578.71</text><text x="102.3" y="1304.1" font-size="8.5" fill="#1a76c8" text-anchor="start">586.23</text><text x="51.7" y="1326.0" font-size="8.5" fill="#1a76c8" text-anchor="start">562.45</text><text x="169.2" y="1306.2" font-size="8.5" fill="#d0101c" text-anchor="start">592.71</text><text x="49.6" y="1379.3" font-size="8.5" fill="#d0101c" text-anchor="start">476.42</text><text x="92.6" y="1374.3" font-size="8.5" fill="#d0101c" text-anchor="start">483.25</text><text x="324.7" y="1304.2" font-size="8.5" fill="#8ca246" text-anchor="start">548.68</text><text x="344.3" y="1354.8" font-size="8.5" fill="#1a76c8" text-anchor="start">526.67</text><text x="289.3" y="1396.3" font-size="8.5" fill="#8ca246" text-anchor="start">375.63</text><text x="290.2" y="1402.2" font-size="8.5" fill="#1a76c8" text-anchor="start">373.59</text><text x="307.1" y="1440.8" font-size="8.5" fill="#d0101c" text-anchor="start">362.84</text><text x="342.8" y="1428.5" font-size="8.5" fill="#d0101c" text-anchor="start">410.20</text><text x="416.9" y="1321.8" font-size="8.5" fill="#8ca246" text-anchor="start">526.35</text><text x="411.0" y="1353.9" font-size="8.5" fill="#1a76c8" text-anchor="start">515.64</text><text x="411.0" y="1385.2" font-size="8.5" fill="#d0101c" text-anchor="start">458.95</text><text x="469.0" y="1371.5" font-size="8.5" fill="#8ca246" text-anchor="start">447.07</text><text x="464.6" y="1399.3" font-size="8.5" fill="#1a76c8" text-anchor="start">440.88</text><text x="449.0" y="1427.0" font-size="8.5" fill="#d0101c" text-anchor="start">408.17</text><text x="605.4" y="1409.6" font-size="8.5" fill="#d0101c" text-anchor="start">370.94</text><text x="607.0" y="1423.1" font-size="8.5" fill="#1a76c8" text-anchor="start">358.27</text><text x="605.4" y="1460.3" font-size="8.5" fill="#8ca246" text-anchor="start">355.88</text></svg>
</body></html>
